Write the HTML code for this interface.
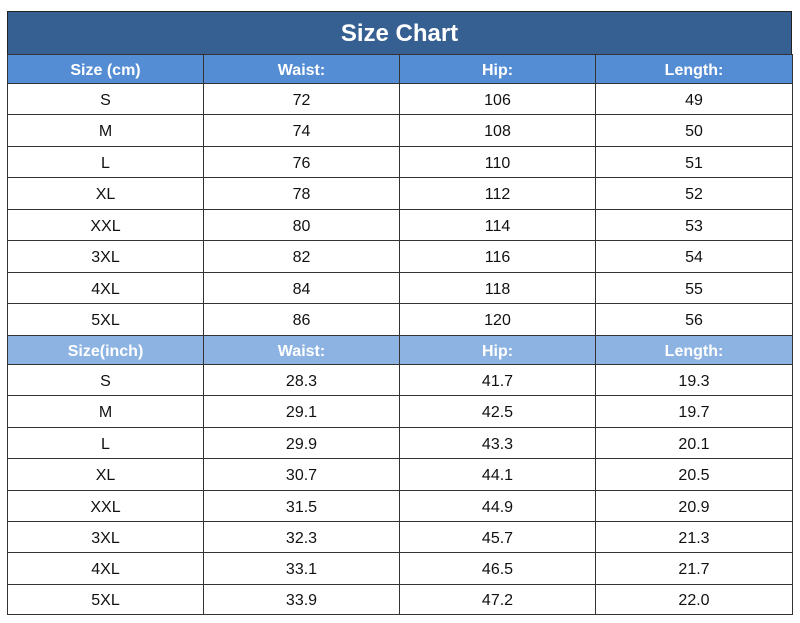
<!DOCTYPE html>
<html><head><style>
body{margin:0;width:800px;height:623px;background:#fff;position:relative;font-family:"Liberation Sans",sans-serif;overflow:hidden}
.c{position:absolute;box-sizing:border-box;display:flex;align-items:center;justify-content:center;font-size:16px;color:#111;padding-top:3px}
.t{position:absolute;left:7px;top:11px;width:785px;height:44px;background:#366092;border:1.5px solid #222;box-sizing:border-box;color:#fff;font-weight:bold;font-size:24px;display:flex;align-items:center;justify-content:center;padding-top:2px}
.h1{background:#548dd4;color:#fff;font-weight:bold}
.h2{background:#8db3e2;color:#fff;font-weight:bold}
</style></head><body>
<div class="t">Size Chart</div>
<div id="g"></div>
<script>
var ys=[54,83,114,146,177,209,240,272,303,335,364,395,427,458,490,521,552,584,614];
var xs=[7,203,399,595,792];
var rows=[["Size (cm)","Waist:","Hip:","Length:",1],["S","72","106","49"],["M","74","108","50"],["L","76","110","51"],["XL","78","112","52"],["XXL","80","114","53"],["3XL","82","116","54"],["4XL","84","118","55"],["5XL","86","120","56"],
["Size(inch)","Waist:","Hip:","Length:",2],["S","28.3","41.7","19.3"],["M","29.1","42.5","19.7"],["L","29.9","43.3","20.1"],["XL","30.7","44.1","20.5"],["XXL","31.5","44.9","20.9"],["3XL","32.3","45.7","21.3"],["4XL","33.1","46.5","21.7"],["5XL","33.9","47.2","22.0"]];
var h="";
rows.forEach(function(r,i){for(var j=0;j<4;j++){
var cls=r[4]==1?" h1":r[4]==2?" h2":"";
h+='<div class="c'+cls+'" style="left:'+xs[j]+'px;top:'+ys[i]+'px;width:'+(xs[j+1]-xs[j]+1)+'px;height:'+(ys[i+1]-ys[i]+1)+'px;border:1px solid #333">'+r[j]+'</div>';}});
document.getElementById("g").innerHTML=h;
</script>
</body></html>
